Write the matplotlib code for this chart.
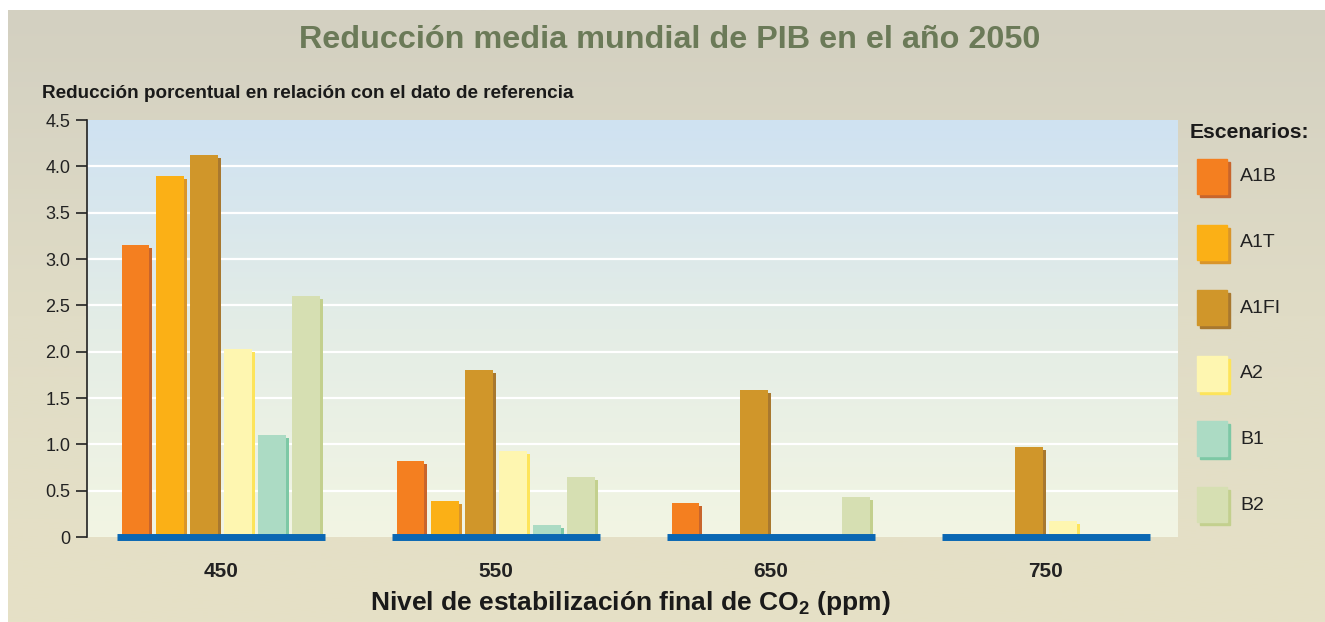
import numpy as np
import matplotlib
matplotlib.use('Agg')
import matplotlib.pyplot as plt
from matplotlib.patches import Rectangle
from matplotlib.colors import LinearSegmentedColormap

plt.rcParams['font.family'] = ['Liberation Sans', 'DejaVu Sans']
plt.rcParams['mathtext.fontset'] = 'custom'
plt.rcParams['mathtext.bf'] = 'Liberation Sans:bold'
plt.rcParams['mathtext.rm'] = 'Liberation Sans:bold'

# niveles de estabilización (ppm) y escenarios
niveles = ['450', '550', '650', '750']
escenarios = ['A1B', 'A1T', 'A1FI', 'A2', 'B1', 'B2']

# reducción porcentual del PIB por escenario
a1b = [3.15, 0.82, 0.37, 0.0]
a1t = [3.90, 0.39, 0.02, 0.0]
a1fi = [4.12, 1.80, 1.59, 0.97]
a2 = [2.03, 0.93, 0.0, 0.17]
b1 = [1.10, 0.13, 0.0, 0.0]
b2 = [2.60, 0.65, 0.43, 0.0]
valores = [a1b, a1t, a1fi, a2, b1, b2]

colores = ['#f47f20', '#fbb016', '#d0962a', '#fef6b0', '#acdbc4', '#d6dfb2']
sombras = ['#c8652c', '#d9952a', '#a8782f', '#fde45a', '#7dc8a5', '#c3d08e']

W, H = 1325, 622
fig = plt.figure(figsize=(W / 100, H / 100), dpi=100)
fig.patch.set_facecolor('white')

# fondo beige degradado
bg = fig.add_axes([8 / W, 0, 1 - 8 / W, 1 - 10 / H])
bg.set_axis_off()
grad = np.linspace(0, 1, 256).reshape(-1, 1)
cm_bg = LinearSegmentedColormap.from_list('bg', ['#e6e1c6', '#e0dcc6', '#d3d0c1'])
bg.imshow(grad, aspect='auto', cmap=cm_bg, extent=[0, 1, 0, 1], origin='lower')
bg.set_xlim(0, 1)
bg.set_ylim(0, 1)

ax = fig.add_axes([87 / W, 1 - 537 / H, (1178 - 87) / W, (537 - 120) / H])
cm_ax = LinearSegmentedColormap.from_list('ax', ['#f2f5e3', '#e4ede6', '#cfe2f2'])
ax.imshow(grad, aspect='auto', cmap=cm_ax, extent=[0, 1, 0, 1], origin='lower',
          transform=ax.transAxes, zorder=0)

x = np.arange(len(niveles))
paso = 0.124
ancho = 0.1
dx = 3 / 275
dy = 2 / 92.7

ax.set_xlim(-0.487, 3.48)
ax.set_ylim(0, 4.5)

for g in np.arange(0.5, 4.01, 0.5):
    ax.axhline(g, color='white', lw=1.6, zorder=1)

for k, vals in enumerate(valores):
    pos = x + (k - 2.5) * paso
    v = np.array(vals)
    # sombra desplazada
    ax.bar(pos + dx, v, width=ancho, bottom=-dy * 1.5,
           color=sombras[k], zorder=2, clip_on=False)
    ax.bar(pos, v, width=ancho, color=colores[k], zorder=3)

# línea base azul de cada grupo
for xi in x:
    ax.plot([xi - 0.378, xi + 0.378], [0, 0], color='#0a67b3', lw=5,
            solid_capstyle='butt', zorder=4, clip_on=False)

for s in ['top', 'right', 'bottom']:
    ax.spines[s].set_visible(False)
ax.spines['left'].set_color('#222222')
ax.spines['left'].set_linewidth(1.2)

ax.set_yticks(np.arange(0, 4.51, 0.5))
ax.set_yticklabels(['0', '0.5', '1.0', '1.5', '2.0', '2.5', '3.0', '3.5', '4.0', '4.5'],
                   fontsize=13, color='#222222')
ax.tick_params(axis='y', length=8, width=1.2, color='#222222', pad=4)
ax.set_xticks(x)
ax.set_xticklabels(niveles, fontsize=15, fontweight='bold', color='#222222')
ax.tick_params(axis='x', length=0, pad=18)

fig.text(0.5 * (300 + 1040) / W, 1 - 40 / H,
         'Reducción media mundial de PIB en el año 2050',
         ha='center', va='center', fontsize=23.3, fontweight='bold', color='#6b7a58')
fig.text(42 / W, 1 - 93 / H,
         'Reducción porcentual en relación con el dato de referencia',
         ha='left', va='center', fontsize=13.6, fontweight='bold', color='#1a1a1a')
fig.text(630 / W, 1 - 603 / H,
         r'Nivel de estabilización final de CO$_{2}$ (ppm)',
         ha='center', va='center', fontsize=19, fontweight='bold', color='#1a1a1a')

# leyenda de escenarios
fig.text(1190 / W, 1 - 132 / H, 'Escenarios:', ha='left', va='center',
         fontsize=15.2, fontweight='bold', color='#1a1a1a')
for k, nombre in enumerate(escenarios):
    top = 159 + k * 65.6
    fig.patches.append(Rectangle(((1197 + 3) / W, 1 - (top + 35 + 3) / H), 30 / W, 35 / H,
                                 transform=fig.transFigure, color=sombras[k]))
    fig.patches.append(Rectangle((1197 / W, 1 - (top + 35) / H), 30 / W, 35 / H,
                                 transform=fig.transFigure, color=colores[k]))
    fig.text(1240 / W, 1 - (top + 18) / H, nombre, ha='left', va='center',
             fontsize=14, color='#222222')

fig.savefig('out.png', dpi=100)
